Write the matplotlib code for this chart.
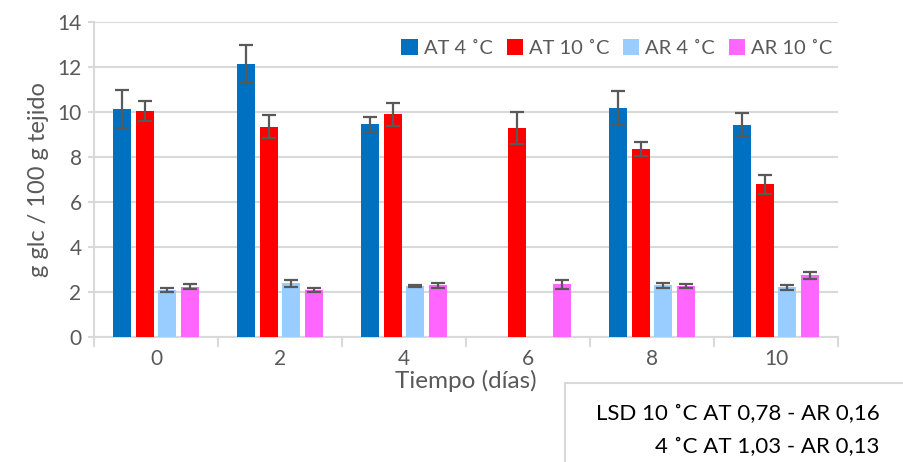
import numpy as np
import matplotlib
matplotlib.use('Agg')
import matplotlib.pyplot as plt
from matplotlib.patches import Rectangle

plt.rcParams['font.family'] = ['Lato', 'DejaVu Sans']

# --- DATOS ---
dias = ['0', '2', '4', '6', '8', '10']
series = ['AT 4 ˚C', 'AT 10 ˚C', 'AR 4 ˚C', 'AR 10 ˚C']
at4 = [10.13, 12.13, 9.45, np.nan, 10.19, 9.44]
at4_err = [0.85, 0.85, 0.35, np.nan, 0.77, 0.50]
at10 = [10.06, 9.35, 9.90, 9.30, 8.36, 6.79]
at10_err = [0.45, 0.52, 0.50, 0.70, 0.31, 0.41]
ar4 = [2.09, 2.39, 2.28, np.nan, 2.30, 2.21]
ar4_err = [0.10, 0.15, 0.04, np.nan, 0.10, 0.10]
ar10 = [2.24, 2.09, 2.30, 2.35, 2.27, 2.74]
ar10_err = [0.12, 0.11, 0.10, 0.20, 0.09, 0.16]
lsd_txt = ['LSD 10 ˚C AT 0,78 - AR 0,16', '4 ˚C AT 1,03 - AR 0,13']

colores = ['#0070C0', '#FF0000', '#99CCFF', '#FF66FF']
valores = [at4, at10, ar4, ar10]
errores = [at4_err, at10_err, ar4_err, ar10_err]

grid_c = '#D9D9D9'
txt_c = '#595959'

fig = plt.figure(figsize=(9.04, 4.62), dpi=100)
ax = fig.add_axes([0.104, 0.2706, 0.823, 0.6814])

x = np.arange(len(dias))
paso, ancho = 0.181, 0.145
for k in range(4):
    pos = x + (k - 1.5) * paso
    ax.bar(pos, valores[k], width=ancho, color=colores[k], label=series[k], zorder=3)
    ax.errorbar(pos, valores[k], yerr=errores[k], fmt='none', ecolor=txt_c,
                elinewidth=1.6, capsize=5, capthick=1.6, zorder=4)

ax.set_xlim(-0.5, len(dias) - 0.5)
ax.set_ylim(0, 14)
ax.set_yticks(np.arange(0, 15, 2))
ax.set_xticks(x)
ax.set_xticklabels(dias)
ax.set_xticks(np.arange(-0.5, len(dias), 1), minor=True)
ax.tick_params(axis='x', which='major', length=0, pad=9, labelsize=15, labelcolor=txt_c)
ax.tick_params(axis='x', which='minor', length=7, width=1.5, color=grid_c)
ax.tick_params(axis='y', length=4, width=1.5, color=grid_c, labelsize=15, labelcolor=txt_c, pad=5)
ax.yaxis.grid(True, color=grid_c, lw=1.5, zorder=0)
ax.set_axisbelow(True)
for s in ['top', 'right']:
    ax.spines[s].set_visible(False)
for s in ['left', 'bottom']:
    ax.spines[s].set_color(grid_c)
    ax.spines[s].set_linewidth(1.5)

ax.set_xlabel('Tiempo (días)', fontsize=17.5, color=txt_c, labelpad=0)
ax.set_ylabel('g glc / 100 g tejido', fontsize=17, color=txt_c, labelpad=6)

leg = ax.legend(loc='upper right', ncol=4, fontsize=14.5, frameon=True, fancybox=False,
                edgecolor='none', facecolor='white', framealpha=1,
                handlelength=0.8, handleheight=0.8, handletextpad=0.3,
                columnspacing=0.7, borderaxespad=0.3, bbox_to_anchor=(1.012, 0.99))
for t in leg.get_texts():
    t.set_color(txt_c)

# cuadro LSD
fig.patches.append(Rectangle((0.625, -0.01), 0.4, 0.181, transform=fig.transFigure,
                             facecolor='white', edgecolor=grid_c, lw=1.5, zorder=5))
fig.text(0.973, 0.104, lsd_txt[0], ha='right', va='center', fontsize=16, color='black', zorder=6)
fig.text(0.973, 0.033, lsd_txt[1], ha='right', va='center', fontsize=16, color='black', zorder=6)

fig.savefig('out.png', dpi=100)
